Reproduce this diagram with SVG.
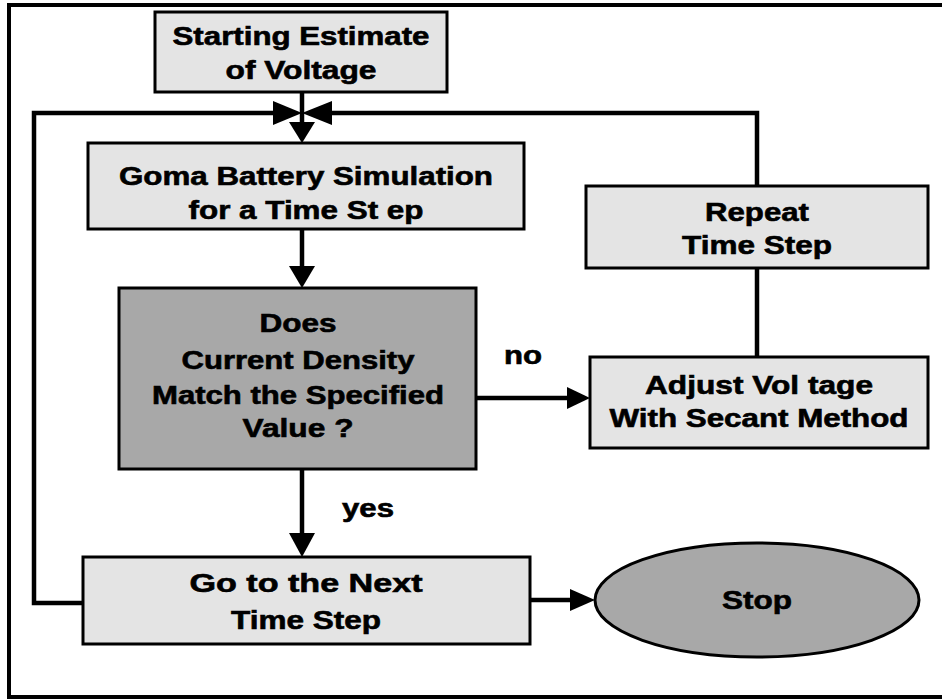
<svg xmlns="http://www.w3.org/2000/svg" width="942" height="700" viewBox="0 0 942 700">
<style>
.box{fill:#e4e4e4;stroke:#000;stroke-width:3}
.dark{fill:#a8a8a8;stroke:#000;stroke-width:3}
.t{font-family:"Liberation Sans",Arial,sans-serif;font-weight:bold;font-size:25px;fill:#000;stroke:#000;stroke-width:0.6;text-anchor:middle}
.ln{fill:none;stroke:#000;stroke-width:4.5}
.ah{fill:#000;stroke:none}
</style>
<rect width="942" height="700" fill="#fff"/>
<path d="M942 5 H9 V697 H942" fill="none" stroke="#000" stroke-width="4"/>
<g id="connectors">
<path class="ln" d="M302 92 V124"/>
<polygon class="ah" points="289,122 315,122 302,143"/>
<path class="ln" d="M83 603 H34 V113 H276"/>
<polygon class="ah" points="273,101 273,125 302,113"/>
<path class="ln" d="M757 186 V113 H329"/>
<polygon class="ah" points="332,101 332,125 302,113"/>
<path class="ln" d="M302 229 V268"/>
<polygon class="ah" points="289,266 315,266 302,288"/>
<path class="ln" d="M476 398 H569"/>
<polygon class="ah" points="567,387 567,409 590,398"/>
<path class="ln" d="M757 357 V268"/>
<path class="ln" d="M302 469 V535"/>
<polygon class="ah" points="289,533 315,533 302,557"/>
<path class="ln" d="M530 600 H572"/>
<polygon class="ah" points="570,589 570,611 595,600"/>
</g>
<g id="start">
<rect class="box" x="155" y="12" width="292" height="80"/>
<text class="t" x="301" y="45" textLength="257" lengthAdjust="spacingAndGlyphs">Starting Estimate</text>
<text class="t" x="301" y="79" textLength="151" lengthAdjust="spacingAndGlyphs">of Voltage</text>
</g>
<g id="goma">
<rect class="box" x="88" y="143" width="436" height="86"/>
<text class="t" x="306" y="185" textLength="374" lengthAdjust="spacingAndGlyphs">Goma Battery Simulation</text>
<text class="t" x="306" y="219" textLength="235" lengthAdjust="spacingAndGlyphs">for a Time St ep</text>
</g>
<g id="decision">
<rect class="dark" x="119" y="288" width="357" height="181"/>
<text class="t" x="298" y="332" textLength="77" lengthAdjust="spacingAndGlyphs">Does</text>
<text class="t" x="298" y="369" textLength="233" lengthAdjust="spacingAndGlyphs">Current Density</text>
<text class="t" x="298" y="404" textLength="292" lengthAdjust="spacingAndGlyphs">Match the Specified</text>
<text class="t" x="298" y="437" textLength="111" lengthAdjust="spacingAndGlyphs">Value ?</text>
</g>
<g id="repeat">
<rect class="box" x="586" y="186" width="342" height="82"/>
<text class="t" x="757" y="221" textLength="104" lengthAdjust="spacingAndGlyphs">Repeat</text>
<text class="t" x="757" y="254" textLength="150" lengthAdjust="spacingAndGlyphs">Time Step</text>
</g>
<g id="adjust">
<rect class="box" x="590" y="357" width="338" height="91"/>
<text class="t" x="759" y="394" textLength="228" lengthAdjust="spacingAndGlyphs">Adjust Vol tage</text>
<text class="t" x="759" y="427" textLength="299" lengthAdjust="spacingAndGlyphs">With Secant Method</text>
</g>
<g id="next">
<rect class="box" x="83" y="557" width="447" height="87"/>
<text class="t" x="306" y="592" textLength="233" lengthAdjust="spacingAndGlyphs">Go to the Next</text>
<text class="t" x="306" y="629" textLength="150" lengthAdjust="spacingAndGlyphs">Time Step</text>
</g>
<g id="stop">
<ellipse class="dark" cx="757" cy="600" rx="162" ry="57"/>
<text class="t" x="757" y="609" textLength="70" lengthAdjust="spacingAndGlyphs">Stop</text>
</g>
<g id="labels">
<text class="t" x="523" y="364" textLength="38" lengthAdjust="spacingAndGlyphs">no</text>
<text class="t" x="368" y="517" textLength="52" lengthAdjust="spacingAndGlyphs">yes</text>
</g>
</svg>
